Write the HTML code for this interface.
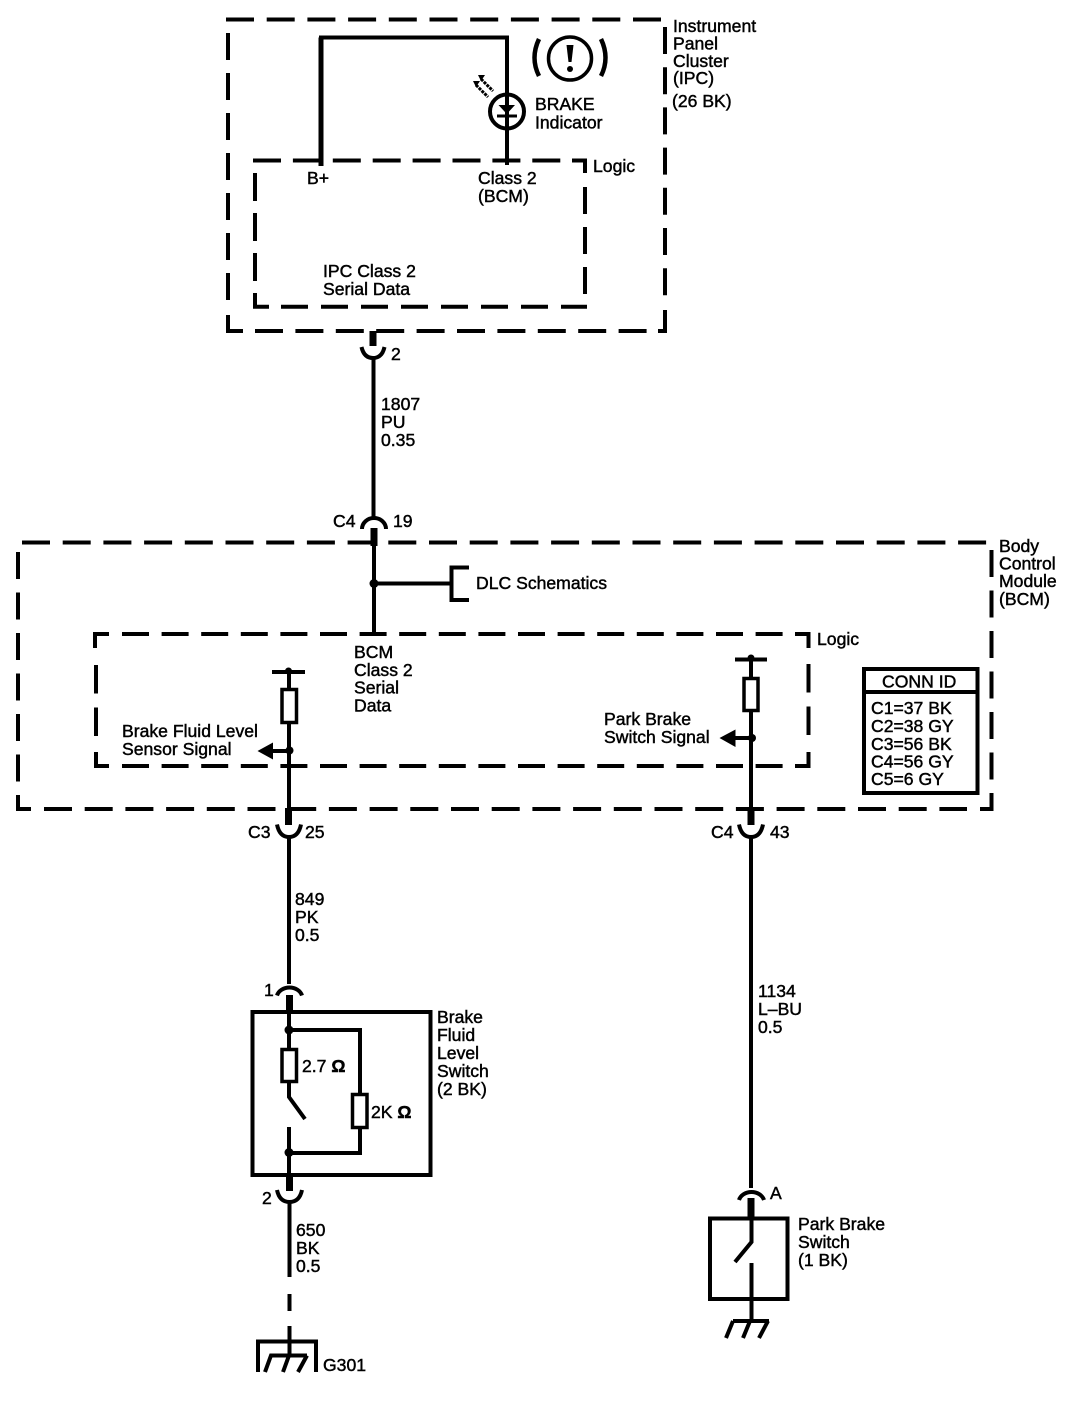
<!DOCTYPE html>
<html><head><meta charset="utf-8"><title>Brake indicator schematic</title>
<style>
html,body{margin:0;padding:0;background:#fff}
svg{display:block}
text{font-family:"Liberation Sans",sans-serif;font-size:17.6px;fill:#000;stroke:#000;stroke-width:.45px}
.w{fill:none;stroke:#000;stroke-width:4}
.o{fill:none;stroke:#000;stroke-width:4}
.od{fill:none;stroke:#000;stroke-width:4;stroke-dasharray:28 12.7}
.l{fill:none;stroke:#000;stroke-width:4;stroke-dasharray:27 12.7}
.s{fill:none;stroke:#000;stroke-width:7}
.r{fill:#fff;stroke:#000;stroke-width:3.5}
.c{fill:none;stroke:#000;stroke-width:4}
</style></head><body>
<svg width="1088" height="1406" viewBox="0 0 1088 1406" xmlns="http://www.w3.org/2000/svg">
<rect width="1088" height="1406" fill="#fff"/>

<!-- IPC outer -->
<path class="od" d="M226 19.5H661"/>
<path class="od" style="stroke-dasharray:27 13.2" d="M665 27V300"/>
<path class="od" style="stroke-dasharray:27 13" d="M228 33V305"/>
<path class="o" d="M665 310V331H658"/>
<path class="o" d="M228 315V331H243"/>
<path class="od" style="stroke-dasharray:28 12.4" d="M255 331H647"/>
<!-- IPC logic -->
<path class="l" style="stroke-dasharray:28 11.9" d="M253 160.5H561"/>
<path class="o" d="M572 160.5H585V173"/>
<path class="l" style="stroke-dasharray:27 13" d="M585 187V294"/>
<path class="l" style="stroke-dasharray:28 12" d="M255 173V281"/>
<path class="o" d="M255 293V306.7H269"/>
<path class="l" style="stroke-dasharray:27 13" d="M281 306.7H587"/>

<!-- IPC wires -->
<path class="s" style="stroke-width:5" d="M321 37.5V166"/>
<path class="w" d="M319 37.5H507V165"/>
<circle class="c" cx="507" cy="111.500" r="17"/>
<path d="M498.500 105H515L506.800 114Z" fill="#000"/>
<path d="M497 116H517" stroke="#000" stroke-width="3" fill="none"/>
<path d="M476 85L488 97M481 79L493 91" stroke="#000" stroke-width="3" stroke-dasharray="3 1" fill="none"/>
<path d="M473 81l7 0l-4 6zM478 75l7 0l-4 6z" fill="#000"/>
<!-- brake symbol -->
<circle cx="570" cy="58.500" r="21.500" fill="none" stroke="#000" stroke-width="3.500"/>
<path d="M539 39Q530 58 539 76M601 39Q610 58 601 76" fill="none" stroke="#000" stroke-width="4.500"/>
<path d="M566.500 45H573.500L571.500 62H568.500Z" fill="#000"/>
<circle cx="570" cy="69" r="3" fill="#000"/>

<!-- 1807 wire -->
<path class="s" d="M373 331V346"/>
<path class="w" d="M361.500 347Q364 358 373 358Q382 358 384.500 347"/>
<path class="w" d="M373.500 358V518"/>
<path class="w" d="M362 529A12 11 0 0 1 386 529"/>
<path class="s" d="M374 528V546"/>
<path class="o" d="M374 546V634"/>
<circle cx="374" cy="583.500" r="4.500" fill="#000"/>
<path class="o" d="M374 583.500H451"/>
<path class="o" d="M469 567.500H451.500V600H469"/>

<!-- BCM outer -->
<path class="od" d="M22 542.500H987"/>
<path class="od" style="stroke-dasharray:27 13.500" d="M991.500 550V780"/>
<path class="od" style="stroke-dasharray:27 13.500" d="M18 552V783"/>
<path class="o" d="M991.500 793V809H980"/>
<path class="o" d="M18 795V809H31"/>
<path class="od" d="M44 809H967"/>
<!-- BCM logic -->
<path class="l" style="stroke-dasharray:27 12.600" d="M122 634H783"/>
<path class="l" style="stroke-dasharray:27 12.600" d="M122 766H783"/>
<path class="o" d="M95 648V634H109"/>
<path class="o" d="M96 752V766H109"/>
<path class="o" d="M795 634H808.500V648"/>
<path class="o" d="M795 766H808.500V752"/>
<path class="l" style="stroke-dasharray:28.500 14" d="M96 665V738"/>
<path class="l" style="stroke-dasharray:28.500 14" d="M808.500 664V738"/>

<!-- Left signal -->
<path class="o" d="M272 672H305"/>
<circle cx="288.500" cy="671" r="3.500" fill="#000"/>
<path class="o" d="M289 672V810"/>
<rect class="r" x="282" y="689.500" width="14.500" height="33"/>
<circle cx="289.500" cy="750.500" r="4" fill="#000"/>
<path d="M257.500 751L273 742.500V749H289V753H273V759.500Z" fill="#000"/>
<path class="s" d="M288.500 808V825"/>
<path class="w" d="M277 824.500Q279.500 837 289 837Q298.500 837 301 824.500"/>
<path class="w" d="M289 837V984"/>
<path class="w" d="M277 995.500A13 11 0 0 1 302 995.500"/>
<path class="s" d="M289.500 995V1012"/>

<!-- Right signal -->
<path class="o" d="M735 659.500H767"/>
<circle cx="751" cy="658" r="3.500" fill="#000"/>
<path class="o" d="M751 659V810"/>
<rect class="r" x="744" y="678.500" width="14" height="32"/>
<circle cx="752" cy="738" r="4" fill="#000"/>
<path d="M719.500 738L735.500 729.500V736H751V740H735.500V747Z" fill="#000"/>
<path class="s" d="M751 808V825"/>
<path class="w" d="M739 824.500Q741.500 837 751 837Q760.500 837 763 824.500"/>
<path class="w" d="M751 837V1188"/>
<path class="w" d="M739 1200A13 11 0 0 1 764 1200"/>
<path class="s" d="M751 1198V1218"/>

<!-- Conn ID -->
<rect class="o" x="864" y="669" width="113.500" height="124"/>
<path class="w" d="M864 692H977"/>

<!-- Brake fluid switch -->
<rect class="o" x="252.500" y="1012" width="178" height="163"/>
<path class="o" d="M289 1011V1097L305 1119"/>
<circle cx="289" cy="1030" r="4.500" fill="#000"/>
<path class="o" d="M289 1030H360V1153H289"/>
<rect class="r" x="282" y="1049.500" width="14.500" height="32"/>
<rect class="r" x="352.500" y="1094.500" width="14.500" height="33"/>
<path class="o" d="M289 1127V1178"/>
<circle cx="289" cy="1152.500" r="4.500" fill="#000"/>
<path class="s" d="M289.500 1176V1191"/>
<path class="w" d="M277 1190Q279.500 1202 289.500 1202Q299.500 1202 302 1190"/>
<path class="o" d="M289.500 1202V1277M289.500 1294V1311M289.500 1326V1355"/>
<!-- G301 ground -->
<path class="o" d="M258 1372V1341.500H316V1372"/>
<path class="w" d="M307 1355.500H271L265 1372M289 1355.500L283 1372M307 1355.500L298 1372"/>

<!-- Park brake switch -->
<rect class="o" x="710" y="1218.500" width="77.500" height="80.500"/>
<path class="o" d="M751.500 1217V1242L735 1262"/>
<path class="o" d="M751.500 1263V1321"/>
<path class="w" d="M733 1321H769M733 1321L726 1338M750 1321L743 1338M768 1321L759 1338"/>

<!-- Text -->
<text x="673" y="32">Instrument</text>
<text x="673" y="49.500">Panel</text>
<text x="673" y="67">Cluster</text>
<text x="673" y="84">(IPC)</text>
<text x="672" y="107">(26 BK)</text>
<text x="535" y="110">BRAKE</text>
<text x="535" y="128.500">Indicator</text>
<text x="593" y="172">Logic</text>
<text x="307" y="184">B+</text>
<text x="478" y="184">Class 2</text>
<text x="478" y="202">(BCM)</text>
<text x="323" y="277">IPC Class 2</text>
<text x="323" y="295">Serial Data</text>
<text x="391" y="360">2</text>
<text x="381" y="410">1807</text>
<text x="381" y="428">PU</text>
<text x="381" y="446">0.35</text>
<text x="333" y="527">C4</text>
<text x="393" y="527">19</text>
<text x="476" y="589">DLC Schematics</text>
<text x="999" y="552">Body</text>
<text x="999" y="569.500">Control</text>
<text x="999" y="587">Module</text>
<text x="999" y="605">(BCM)</text>
<text x="817" y="645">Logic</text>
<text x="354" y="658">BCM</text>
<text x="354" y="676">Class 2</text>
<text x="354" y="693.500">Serial</text>
<text x="354" y="711.500">Data</text>
<text x="122" y="737">Brake Fluid Level</text>
<text x="122" y="755">Sensor Signal</text>
<text x="604" y="725">Park Brake</text>
<text x="604" y="743">Switch Signal</text>
<text x="882" y="687.500">CONN ID</text>
<text x="871" y="714">C1=37 BK</text>
<text x="871" y="732">C2=38 GY</text>
<text x="871" y="750">C3=56 BK</text>
<text x="871" y="767.500">C4=56 GY</text>
<text x="871" y="785">C5=6 GY</text>
<text x="248" y="838">C3</text>
<text x="305" y="838">25</text>
<text x="711" y="838">C4</text>
<text x="770" y="838">43</text>
<text x="295" y="905">849</text>
<text x="295" y="923">PK</text>
<text x="295" y="941">0.5</text>
<text x="758" y="997">1134</text>
<text x="758" y="1015">L–BU</text>
<text x="758" y="1033">0.5</text>
<text x="264" y="996">1</text>
<text x="437" y="1023">Brake</text>
<text x="437" y="1041">Fluid</text>
<text x="437" y="1059">Level</text>
<text x="437" y="1077">Switch</text>
<text x="437" y="1095">(2 BK)</text>
<text x="302" y="1072">2.7 <tspan font-weight="bold">Ω</tspan></text>
<text x="371" y="1118">2K <tspan font-weight="bold">Ω</tspan></text>
<text x="262" y="1204">2</text>
<text x="770" y="1199">A</text>
<text x="798" y="1230">Park Brake</text>
<text x="798" y="1248">Switch</text>
<text x="798" y="1266">(1 BK)</text>
<text x="296" y="1236">650</text>
<text x="296" y="1254">BK</text>
<text x="296" y="1272">0.5</text>
<text x="323" y="1371">G301</text>
</svg>
</body></html>
